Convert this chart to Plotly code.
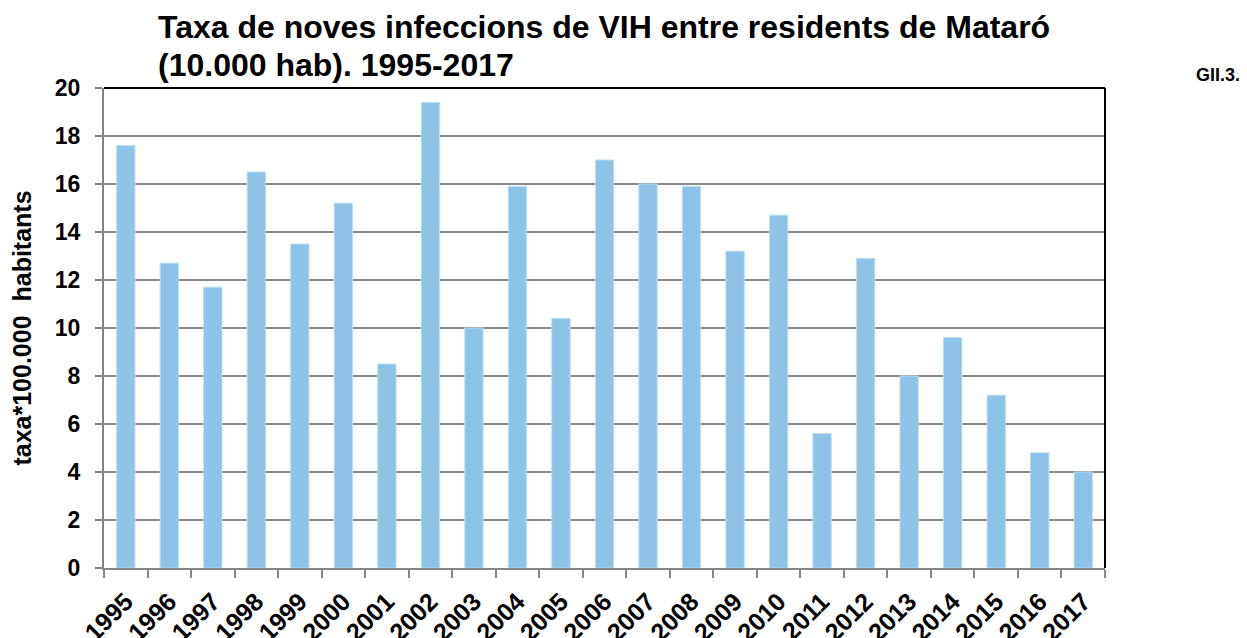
import plotly.graph_objects as go

years = [str(y) for y in range(1995, 2018)]
rates = [17.6, 12.7, 11.7, 16.5, 13.5, 15.2, 8.5, 19.4, 10.0, 15.9, 10.4, 17.0,
         16.0, 15.9, 13.2, 14.7, 5.6, 12.9, 8.0, 9.6, 7.2, 4.8, 4.0]
y_ticks = list(range(0, 21, 2))

title_line1 = "Taxa de noves infeccions de VIH entre residents de Mataró"
title_line2 = "(10.000 hab). 1995-2017"
y_title = "taxa*100.000  habitants"
corner_label = "GII.3."

FONT = "Liberation Sans, Arial, sans-serif"
OFF = 8  # default body margin of the html page

fig = go.Figure()
fig.add_trace(go.Bar(
    x=years, y=rates,
    marker=dict(color="#8CC3E6", line=dict(color="#B9DDF2", width=1)),
    hoverinfo="x+y",
))

fig.update_layout(
    width=1247 - OFF, height=638 - OFF,
    margin=dict(l=104 - OFF, r=142, t=88 - OFF, b=70),
    paper_bgcolor="white", plot_bgcolor="white",
    bargap=0.58,
    showlegend=False,
    font=dict(family=FONT, color="black"),
)

fig.update_xaxes(
    type="category",
    automargin=False,
    tickangle=-45,
    tickfont=dict(family=FONT, size=25, color="black", weight="bold"),
    showline=True, linecolor="#868686", linewidth=2,
    ticks="outside", tickson="boundaries", ticklen=8, tickcolor="#868686", tickwidth=2,
    showgrid=False,
    ticklabelstandoff=7,
)
fig.update_yaxes(
    automargin=False,
    range=[0, 20],
    tickvals=y_ticks,
    tickfont=dict(family=FONT, size=23, color="black", weight="bold"),
    showline=True, linecolor="#868686", linewidth=2,
    ticks="outside", ticklen=7, tickcolor="#868686", tickwidth=2,
    showgrid=True, gridcolor="#8A8A8A", gridwidth=1.5,
    zeroline=False,
    ticklabelstandoff=10,
    title=dict(text=y_title, font=dict(family=FONT, size=25, color="black", weight="bold"), standoff=18),
)

# top and right black border
fig.add_shape(type="line", xref="paper", yref="paper", x0=0, x1=1, y0=1, y1=1,
              line=dict(color="black", width=2))
fig.add_shape(type="line", xref="paper", yref="paper", x0=1, x1=1, y0=0, y1=1,
              line=dict(color="black", width=2))

fig.add_annotation(text=title_line1, xref="paper", yref="paper",
                   x=(156 - 104) / 1001, y=1, xanchor="left", yanchor="bottom",
                   yshift=41, showarrow=False,
                   font=dict(family=FONT, size=32, color="black", weight="bold"))
fig.add_annotation(text=title_line2, xref="paper", yref="paper",
                   x=(156 - 104) / 1001, y=1, xanchor="left", yanchor="bottom",
                   yshift=3, showarrow=False,
                   font=dict(family=FONT, size=32, color="black", weight="bold"))
fig.add_annotation(text=corner_label, xref="paper", yref="paper",
                   x=(1194 - 104) / 1001, y=1, xanchor="left", yanchor="bottom",
                   yshift=1, showarrow=False,
                   font=dict(family=FONT, size=18, color="black", weight="bold"))

fig.write_html("out.html")
